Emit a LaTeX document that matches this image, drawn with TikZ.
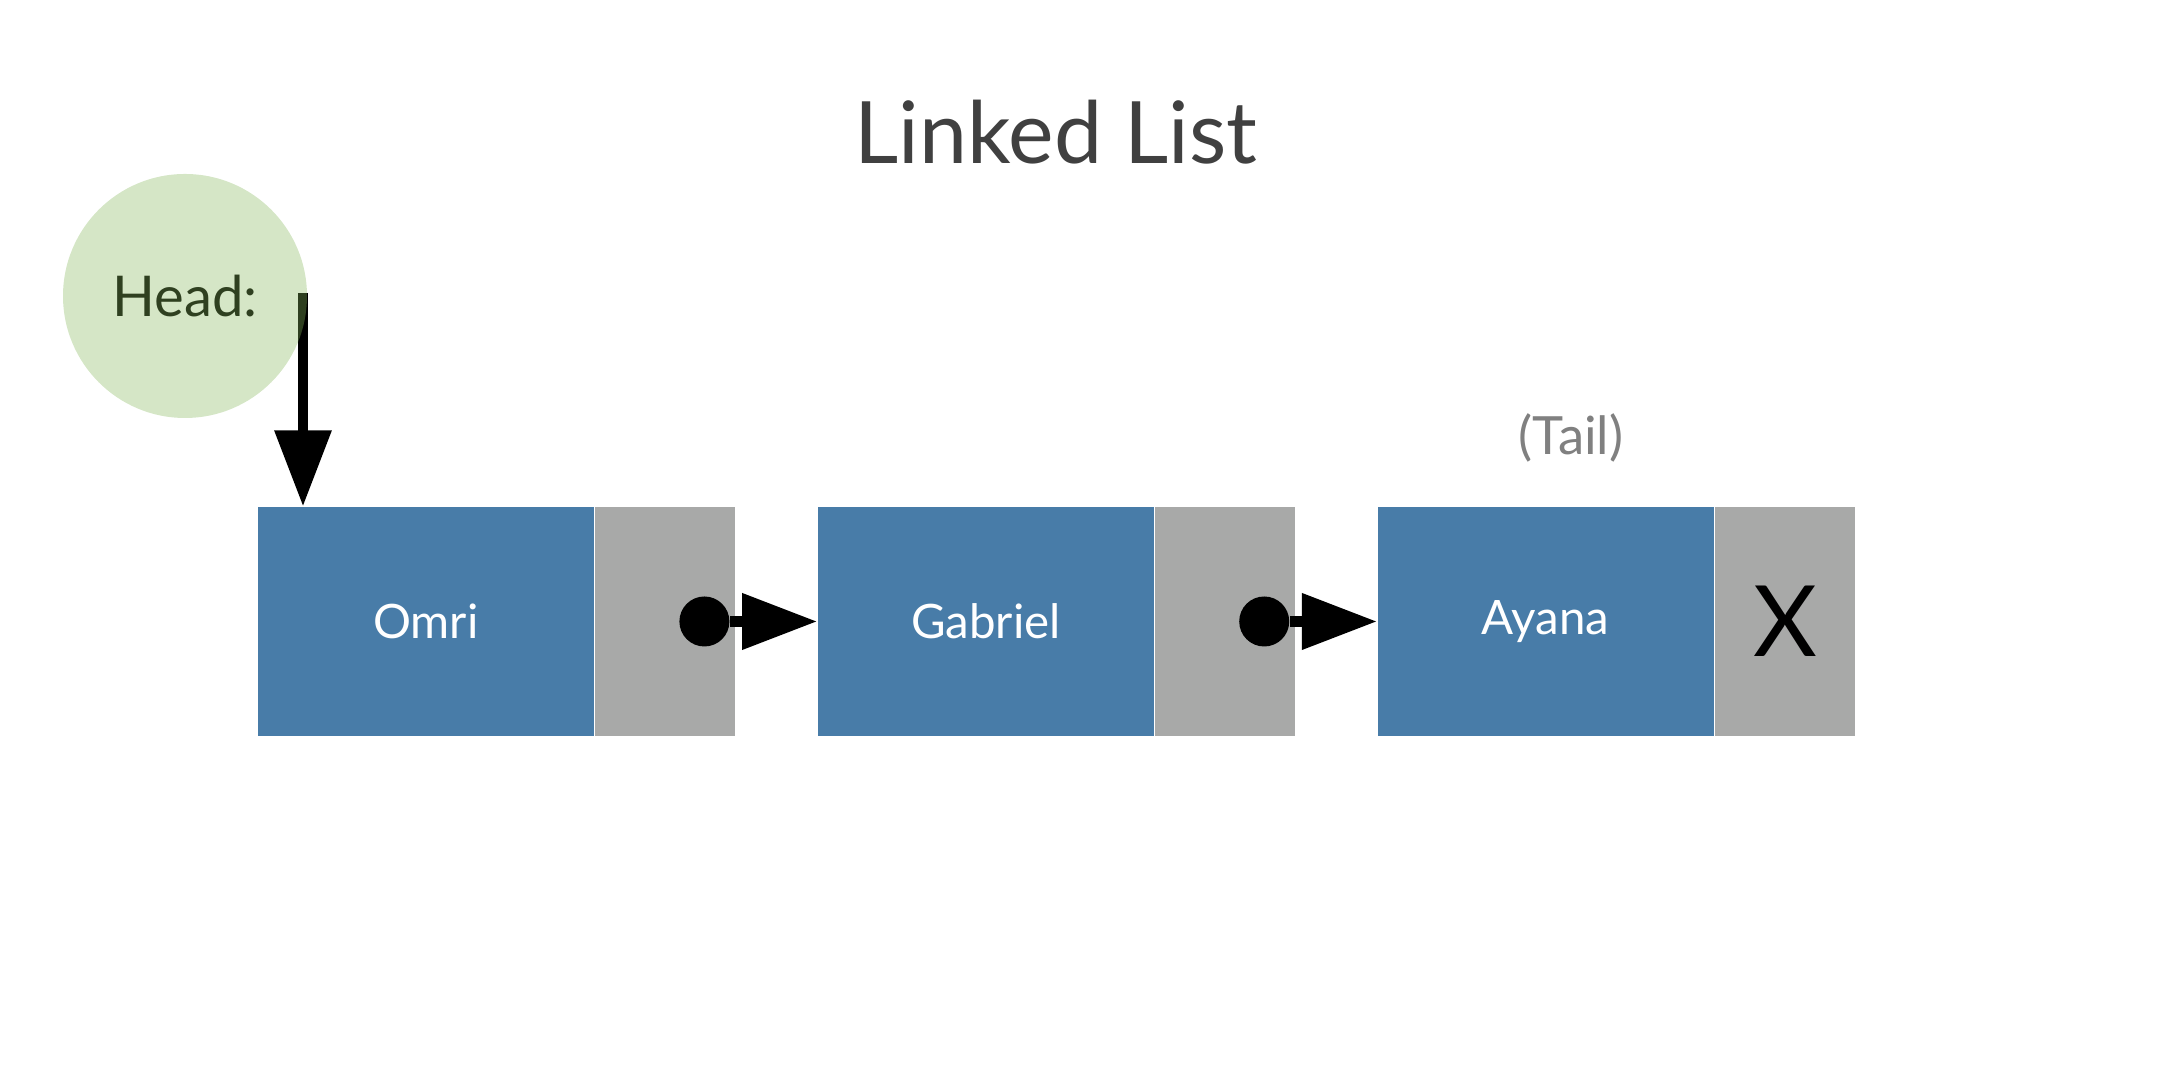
\documentclass[tikz,border=0pt]{standalone}
\usepackage{fontspec}
\setmainfont{Lato}
\usepackage{tikz}
\usetikzlibrary{positioning, arrows.meta}

\definecolor{nodeblue}{RGB}{72,124,168}
\definecolor{ptrgrey}{RGB}{168,169,168}
\definecolor{headgreen}{RGB}{134,183,91}
\definecolor{headtext}{RGB}{47,64,32}
\definecolor{titlegrey}{RGB}{64,64,64}

\tikzset{
  databox/.style={fill=nodeblue, minimum width=3.36cm, minimum height=2.29cm,
    inner sep=0pt, text=white, font=\fontsize{13.5}{16}\selectfont},
  nextbox/.style={fill=ptrgrey, minimum width=1.40cm, minimum height=2.29cm,
    inner sep=0pt, font=\fontsize{28}{32}\selectfont},
  ptrdot/.style={circle, fill=black, minimum size=0.5cm, inner sep=0pt},
  link/.style={line width=3pt, -{Triangle[length=0.75cm, width=0.54cm]}},
}

\begin{document}
\begin{tikzpicture}[node distance=0.81cm]
\useasboundingbox (0,0) rectangle (21.58,10.86);
\node [anchor=base, text=titlegrey, font=\fontsize{24.5}{28}\selectfont] (title) at (10.56,9.22) {Linked List};
% list nodes
\node [databox] (omri) at (4.26,4.645) {Omri};
\node [nextbox, right=0pt of omri] (omrinext) {};
\node [databox, right=of omrinext] (gabriel) {Gabriel};
\node [nextbox, right=0pt of gabriel] (gabrielnext) {};
\node [databox, right=of gabrielnext] (ayana) {Ayana};
\node [nextbox, right=0pt of ayana] (ayananext) {X};
\node [anchor=base, text=gray, font=\fontsize{15}{18}\selectfont] (tail) at (15.71,6.31) {(Tail)};
% next pointers
\node [ptrdot, left=0.06cm of omrinext.east] (omridot) {};
\node [ptrdot, left=0.06cm of gabrielnext.east] (gabrieldot) {};
\draw [link] (omridot) -- (gabriel);
\draw [link] (gabrieldot) -- (ayana);
% head
\coordinate (headstart) at (3.03,7.93);
\draw [line width=2.85pt, -{Triangle[length=0.76cm, width=0.55cm]}] (headstart) -- (headstart |- omri.north);
\node [circle, fill=headgreen, fill opacity=0.35, text opacity=1, text=headtext,
  minimum size=2.44cm, inner sep=0pt, font=\fontsize{16}{19}\selectfont] (head) at (1.85,7.90) {Head:};
\end{tikzpicture}
\end{document}
